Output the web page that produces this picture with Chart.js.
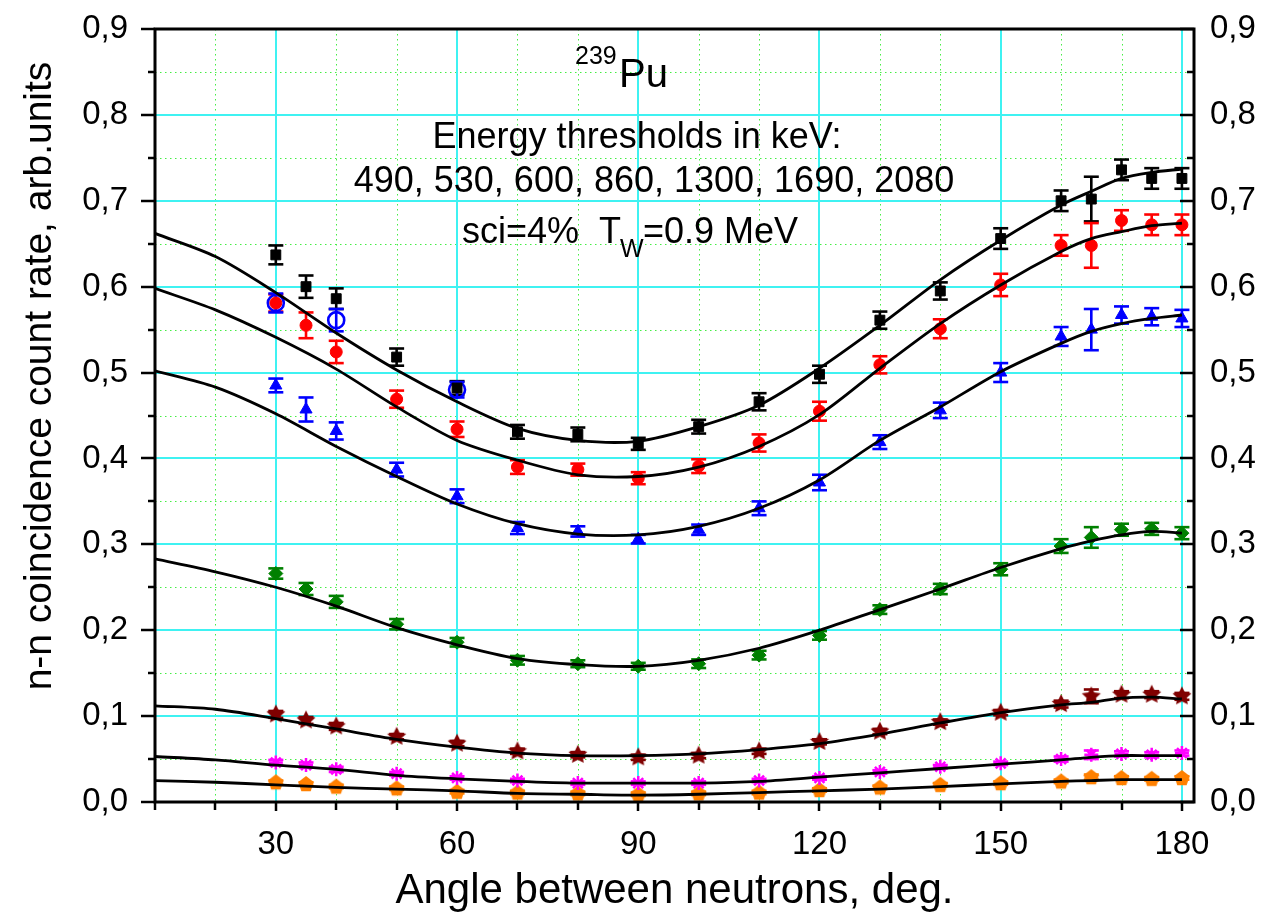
<!DOCTYPE html>
<html>
<head>
<meta charset="utf-8">
<title>239Pu n-n angular correlation</title>
<script src="https://cdn.jsdelivr.net/npm/chart.js@4.4.1/dist/chart.umd.min.js"></script>
<style>
  html, body { margin: 0; padding: 0; background: #ffffff; }
  #wrap { width: 1266px; height: 919px; position: relative; }
</style>
</head>
<body>
<div id="wrap"><canvas id="c"></canvas></div>
<script>
const FONT = "'Liberation Sans', Arial, Helvetica, sans-serif";

// Measured angles (deg)
const angles = [30, 35, 40, 50, 60, 70, 80, 90, 100, 110, 120, 130, 140, 150, 160, 165, 170, 175, 180];

// Count rates for the seven energy thresholds (keV) and their errors
const rate490  = [0.637, 0.600, 0.586, 0.518, 0.482, 0.431, 0.428, 0.417, 0.437, 0.466, 0.498, 0.561, 0.595, 0.656, 0.700, 0.702, 0.736, 0.726, 0.726];
const err490   = [0.011, 0.013, 0.012, 0.010, 0.008, 0.008, 0.008, 0.007, 0.008, 0.010, 0.010, 0.010, 0.010, 0.012, 0.012, 0.026, 0.012, 0.012, 0.012];
const rate530  = [0.581, 0.555, 0.524, 0.469, 0.434, 0.390, 0.387, 0.377, 0.391, 0.418, 0.455, 0.509, 0.551, 0.602, 0.648, 0.648, 0.677, 0.672, 0.672];
const err530   = [0.010, 0.015, 0.013, 0.010, 0.009, 0.008, 0.007, 0.007, 0.008, 0.010, 0.011, 0.010, 0.011, 0.013, 0.012, 0.026, 0.012, 0.012, 0.012];
const rate600  = [0.485, 0.457, 0.432, 0.387, 0.356, 0.319, 0.315, 0.306, 0.317, 0.342, 0.372, 0.419, 0.456, 0.500, 0.542, 0.550, 0.567, 0.565, 0.563];
const err600   = [0.008, 0.014, 0.010, 0.008, 0.008, 0.007, 0.006, 0.005, 0.006, 0.008, 0.009, 0.008, 0.009, 0.011, 0.011, 0.024, 0.010, 0.010, 0.010];
const rate860  = [0.266, 0.248, 0.233, 0.207, 0.186, 0.165, 0.161, 0.158, 0.161, 0.171, 0.194, 0.224, 0.248, 0.271, 0.298, 0.308, 0.317, 0.318, 0.313];
const err860   = [0.006, 0.007, 0.007, 0.006, 0.005, 0.005, 0.004, 0.004, 0.005, 0.005, 0.005, 0.005, 0.006, 0.007, 0.008, 0.012, 0.007, 0.007, 0.007];
const rate1300 = [0.102, 0.095, 0.088, 0.076, 0.068, 0.059, 0.055, 0.052, 0.054, 0.059, 0.070, 0.082, 0.093, 0.104, 0.114, 0.123, 0.125, 0.125, 0.123];
const err1300  = [0.004, 0.004, 0.004, 0.003, 0.003, 0.003, 0.003, 0.003, 0.003, 0.003, 0.003, 0.003, 0.003, 0.003, 0.004, 0.008, 0.004, 0.004, 0.004];
const rate1690 = [0.046, 0.043, 0.038, 0.033, 0.028, 0.025, 0.022, 0.022, 0.022, 0.025, 0.028, 0.035, 0.041, 0.045, 0.050, 0.055, 0.056, 0.055, 0.057];
const err1690  = [0.003, 0.003, 0.003, 0.002, 0.002, 0.002, 0.002, 0.002, 0.002, 0.002, 0.002, 0.002, 0.002, 0.002, 0.003, 0.005, 0.003, 0.003, 0.003];
const rate2080 = [0.023, 0.021, 0.018, 0.016, 0.012, 0.011, 0.010, 0.009, 0.010, 0.011, 0.014, 0.017, 0.020, 0.022, 0.024, 0.029, 0.028, 0.027, 0.028];
const err2080  = [0.002, 0.002, 0.002, 0.002, 0.002, 0.002, 0.002, 0.002, 0.002, 0.002, 0.002, 0.002, 0.002, 0.002, 0.002, 0.003, 0.002, 0.002, 0.002];

// Repeated measurement (open circles)
const repeatAngles = [30, 40, 60];
const repeatRate   = [0.581, 0.561, 0.480];
const repeatErr    = [0.011, 0.013, 0.009];

// Calculated curves
const fitAngles = [10, 20, 30, 40, 50, 60, 70, 80, 90, 100, 110, 120, 130, 140, 150, 160, 165, 170, 175, 180];
const fit490  = [0.662, 0.635, 0.593, 0.546, 0.503, 0.466, 0.435, 0.421, 0.420, 0.437, 0.462, 0.505, 0.555, 0.608, 0.654, 0.695, 0.711, 0.726, 0.733, 0.737];
const fit530  = [0.598, 0.573, 0.541, 0.504, 0.460, 0.421, 0.398, 0.381, 0.379, 0.390, 0.414, 0.451, 0.505, 0.557, 0.602, 0.641, 0.656, 0.664, 0.671, 0.674];
const fit600  = [0.502, 0.483, 0.452, 0.414, 0.379, 0.347, 0.324, 0.312, 0.311, 0.321, 0.342, 0.375, 0.421, 0.460, 0.501, 0.534, 0.548, 0.557, 0.563, 0.567];
const fit860  = [0.283, 0.268, 0.250, 0.228, 0.203, 0.183, 0.167, 0.160, 0.158, 0.165, 0.179, 0.200, 0.224, 0.248, 0.273, 0.295, 0.304, 0.311, 0.315, 0.313];
const fit1300 = [0.112, 0.108, 0.097, 0.085, 0.073, 0.064, 0.057, 0.054, 0.054, 0.056, 0.061, 0.068, 0.079, 0.092, 0.104, 0.113, 0.116, 0.121, 0.122, 0.120];
const fit1690 = [0.053, 0.049, 0.043, 0.038, 0.031, 0.027, 0.024, 0.022, 0.022, 0.022, 0.024, 0.029, 0.034, 0.039, 0.044, 0.049, 0.052, 0.054, 0.054, 0.054];
const fit2080 = [0.025, 0.023, 0.020, 0.017, 0.015, 0.013, 0.010, 0.009, 0.008, 0.009, 0.011, 0.013, 0.015, 0.018, 0.021, 0.024, 0.025, 0.026, 0.026, 0.026];

// Axis ticks
const xTickValues = [30, 60, 90, 120, 150, 180];
const yTickValues = [0, 0.1, 0.2, 0.3, 0.4, 0.5, 0.6, 0.7, 0.8, 0.9];

const pts = (xs, ys) => xs.map((x, i) => ({ x, y: ys[i] }));

// Filled marker shapes drawn on small canvases
function shapeCanvas(kind, color, r) {
  const s = Math.ceil(r * 2 + 4);
  const cv = document.createElement('canvas');
  cv.width = s; cv.height = s;
  const g = cv.getContext('2d');
  const c = s / 2;
  g.fillStyle = color;
  g.beginPath();
  if (kind === 'star') {
    for (let i = 0; i < 10; i++) {
      const rr = i % 2 ? r * 0.5 : r;
      const a = -Math.PI / 2 + i * Math.PI / 5;
      const px = c + rr * Math.cos(a), py = c + rr * Math.sin(a);
      i ? g.lineTo(px, py) : g.moveTo(px, py);
    }
  } else if (kind === 'pentagon') {
    for (let i = 0; i < 5; i++) {
      const a = -Math.PI / 2 + i * 2 * Math.PI / 5;
      const px = c + r * Math.cos(a), py = c + r * 1.05 * Math.sin(a) + 0.5;
      i ? g.lineTo(px, py) : g.moveTo(px, py);
    }
  }
  g.closePath();
  g.fill();
  return cv;
}

function curve(data) {
  return {
    data: pts(fitAngles, data), showLine: true, borderColor: '#000000', borderWidth: 2.8,
    pointRadius: 0, tension: 0.3, fill: false
  };
}
function series(data, errs, color, style, radius, extra) {
  return Object.assign({
    data: pts(angles, data), errors: errs, showLine: false, pointStyle: style, pointRadius: radius,
    backgroundColor: color, borderColor: color, pointBorderWidth: 1
  }, extra || {});
}

const datasets = [
  curve(fit490), curve(fit530), curve(fit600), curve(fit860), curve(fit1300), curve(fit1690), curve(fit2080),
  series(rate490, err490, '#000000', 'rect', 7),
  series(rate530, err530, '#ff0000', 'circle', 6),
  series(rate600, err600, '#0000ff', 'triangle', 7),
  series(rate860, err860, '#008000', 'rectRot', 7),
  series(rate1300, err1300, '#800000', shapeCanvas('star', '#800000', 10), 8),
  series(rate1690, err1690, '#ff00ff', 'star', 7, { pointBorderWidth: 2.5 }),
  series(rate2080, err2080, '#ff8000', shapeCanvas('pentagon', '#ff8000', 8), 7),
  {
    data: pts(repeatAngles, repeatRate), errors: repeatErr, showLine: false, pointStyle: 'circle',
    pointRadius: 8, backgroundColor: 'rgba(0,0,0,0)', borderColor: '#0000ff', pointBorderWidth: 2.6
  }
];

function seg(ctx, x1, y1, x2, y2) { ctx.beginPath(); ctx.moveTo(x1, y1); ctx.lineTo(x2, y2); ctx.stroke(); }

// Grid, caption and error bars under the data; frame, tick marks and y title above it
const framePlugin = {
  id: 'framePlugin',
  beforeDatasetsDraw(chart) {
    const { ctx, chartArea: a, scales: { x, y } } = chart;
    ctx.save();
    // minor grid (dotted green)
    ctx.lineWidth = 1;
    ctx.strokeStyle = '#44ee44';
    ctx.setLineDash([1.5, 3.5]);
    for (let v = 20; v <= 180; v += 10) {
      if (v % 30 === 0) continue;
      const px = Math.round(x.getPixelForValue(v)) + 0.5;
      seg(ctx, px, a.top, px, a.bottom);
    }
    for (let k = 1; k <= 17; k += 2) {
      const py = Math.round(y.getPixelForValue(k * 0.05)) + 0.5;
      seg(ctx, a.left, py, a.right, py);
    }
    // major grid (cyan)
    ctx.setLineDash([]);
    ctx.lineWidth = 2;
    ctx.strokeStyle = '#3ff2f2';
    xTickValues.forEach(v => { const px = Math.round(x.getPixelForValue(v)); seg(ctx, px, a.top, px, a.bottom); });
    yTickValues.forEach(v => { if (v <= 0 || v >= 0.9) return; const py = Math.round(y.getPixelForValue(v)); seg(ctx, a.left, py, a.right, py); });

    // caption
    ctx.fillStyle = '#000000';
    ctx.textBaseline = 'alphabetic';
    ctx.textAlign = 'left';
    ctx.font = `25px ${FONT}`;
    ctx.fillText('239', 575, 64);
    ctx.font = `40px ${FONT}`;
    ctx.fillText('Pu', 619, 87);
    ctx.font = `36px ${FONT}`;
    ctx.textAlign = 'center';
    ctx.fillText('Energy thresholds in keV:', 637, 148);
    ctx.fillText('490, 530, 600, 860, 1300, 1690, 2080', 654, 192);
    ctx.textAlign = 'left';
    ctx.fillText('sci=4%  T', 462, 243);
    ctx.font = `25px ${FONT}`;
    ctx.fillText('W', 620, 257);
    ctx.font = `36px ${FONT}`;
    ctx.fillText('=0.9 MeV', 643, 243);

    // error bars
    ctx.lineWidth = 2.6;
    chart.data.datasets.forEach((ds, i) => {
      if (!ds.errors) return;
      const meta = chart.getDatasetMeta(i);
      ctx.strokeStyle = ds.borderColor;
      meta.data.forEach((el, j) => {
        const v = ds.data[j].y, e = ds.errors[j];
        const top = y.getPixelForValue(v + e), bot = y.getPixelForValue(v - e);
        seg(ctx, el.x, top, el.x, bot);
        seg(ctx, el.x - 7.5, top, el.x + 7.5, top);
        seg(ctx, el.x - 7.5, bot, el.x + 7.5, bot);
      });
    });
    ctx.restore();
  },
  afterDatasetsDraw(chart) {
    const { ctx, chartArea: a, scales: { x, y } } = chart;
    ctx.save();
    ctx.strokeStyle = '#000000';
    ctx.lineWidth = 3;
    ctx.strokeRect(a.left, a.top, a.right - a.left, a.bottom - a.top);
    ctx.lineWidth = 2.5;
    // bottom axis: ticks pointing out
    for (let v = 10; v <= 180; v += 10) {
      const px = Math.round(x.getPixelForValue(v));
      seg(ctx, px, a.bottom, px, a.bottom + (v % 30 === 0 ? 9 : 8));
    }
    // left (outward) and right (inward) axes
    for (let k = 0; k <= 18; k++) {
      const py = Math.round(y.getPixelForValue(k * 0.05));
      const len = k % 2 === 0 ? 14 : 7;
      seg(ctx, a.left - len, py, a.left, py);
      seg(ctx, a.right - len, py, a.right, py);
    }
    // y-axis title
    ctx.translate(40, 376);
    ctx.rotate(-Math.PI / 2);
    ctx.fillStyle = '#000000';
    ctx.font = `39px ${FONT}`;
    ctx.textAlign = 'center';
    ctx.textBaseline = 'middle';
    ctx.fillText('n-n coincidence count rate, arb.units', 0, 0);
    ctx.restore();
  }
};

const yTickFmt = v => Number(v).toFixed(1).replace('.', ',');
const fixVertical = w => s => { s.width = w; s.paddingTop = 0; s.paddingBottom = 0; };

new Chart(document.getElementById('c'), {
  type: 'scatter',
  data: { datasets },
  options: {
    responsive: true,
    maintainAspectRatio: false,
    animation: false,
    events: [],
    layout: { padding: { top: 29, left: 0, right: 0, bottom: 0 } },
    plugins: { legend: { display: false }, tooltip: { enabled: false } },
    scales: {
      x: {
        type: 'linear', position: 'bottom', min: 10, max: 182,
        afterBuildTicks: s => { s.ticks = xTickValues.map(v => ({ value: v })); },
        ticks: { font: { size: 33, family: FONT }, color: '#000000', padding: 23, maxRotation: 0, autoSkip: false },
        grid: { display: false, drawTicks: false },
        border: { display: false },
        title: { display: true, text: 'Angle between neutrons, deg.', color: '#000000',
                 font: { size: 42, family: FONT }, padding: { top: 0, bottom: 2 } },
        afterFit: s => { s.height = 117; s.paddingLeft = 0; s.paddingRight = 0; }
      },
      y: {
        type: 'linear', position: 'left', min: 0, max: 0.9,
        afterBuildTicks: s => { s.ticks = yTickValues.map(v => ({ value: v })); },
        ticks: { font: { size: 33, family: FONT }, color: '#000000', padding: 27, callback: yTickFmt },
        grid: { display: false, drawTicks: false },
        border: { display: false },
        afterFit: fixVertical(155)
      },
      y2: {
        type: 'linear', position: 'right', min: 0, max: 0.9,
        afterBuildTicks: s => { s.ticks = yTickValues.map(v => ({ value: v })); },
        ticks: { font: { size: 33, family: FONT }, color: '#000000', padding: 16, callback: yTickFmt },
        grid: { display: false, drawTicks: false },
        border: { display: false },
        afterFit: fixVertical(72)
      }
    }
  },
  plugins: [framePlugin]
});
</script>
</body>
</html>
